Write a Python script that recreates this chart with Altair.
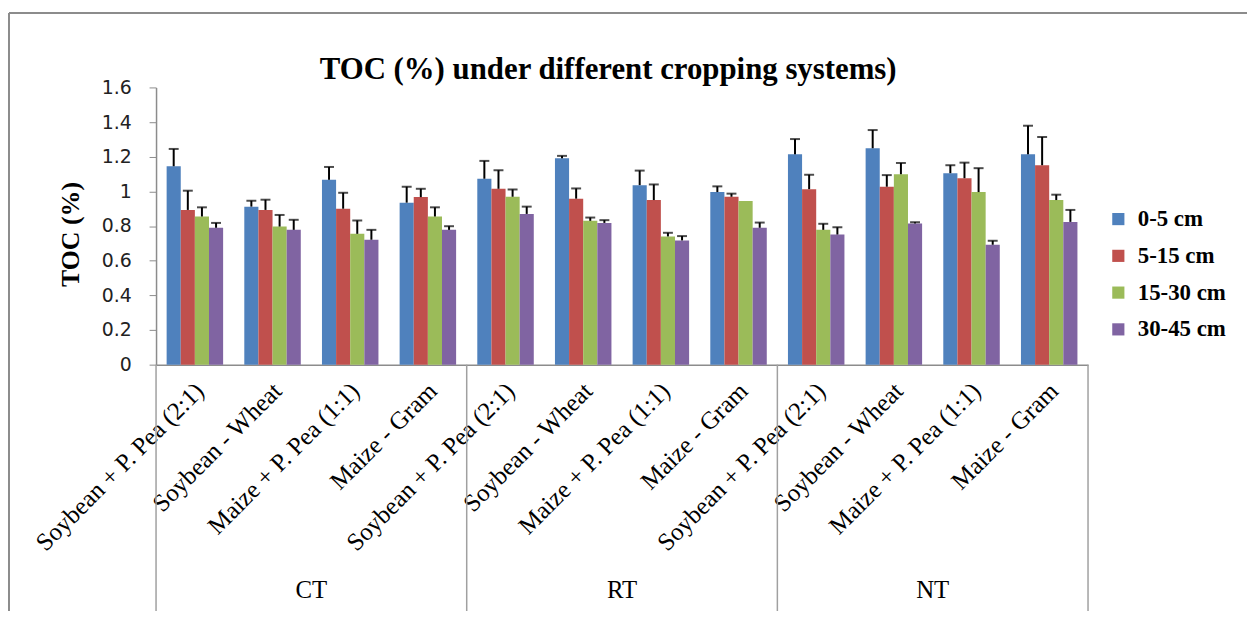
import altair as alt
import pandas as pd

tillage = ["CT", "RT", "NT"]
systems = ["Soybean + P. Pea (2:1)", "Soybean - Wheat", "Maize + P. Pea (1:1)", "Maize - Gram"]
depths = ["0-5 cm", "5-15 cm", "15-30 cm", "30-45 cm"]
colors = ["#4F81BD", "#C0504D", "#9BBB59", "#8064A2"]
title_text = "TOC (%) under different cropping systems)"
y_ticks = [0, 0.2, 0.4, 0.6, 0.8, 1.0, 1.2, 1.4, 1.6]

# values in system order within CT, RT, NT
toc_0_5 = [1.145, 0.912, 1.067, 0.935, 1.073, 1.191, 1.036, 0.996, 1.214, 1.249, 1.105, 1.214]
err_0_5 = [0.100, 0.034, 0.074, 0.092, 0.103, 0.014, 0.084, 0.033, 0.088, 0.105, 0.046, 0.165]
toc_5_15 = [0.893, 0.893, 0.900, 0.967, 1.015, 0.958, 0.950, 0.969, 1.013, 1.027, 1.076, 1.151]
err_5_15 = [0.111, 0.059, 0.092, 0.048, 0.107, 0.059, 0.090, 0.018, 0.083, 0.067, 0.090, 0.163]
toc_15_30 = [0.855, 0.797, 0.755, 0.855, 0.969, 0.830, 0.740, 0.945, 0.778, 1.099, 0.996, 0.950]
err_15_30 = [0.053, 0.067, 0.077, 0.053, 0.042, 0.019, 0.021, 0.000, 0.035, 0.065, 0.138, 0.031]
toc_30_45 = [0.790, 0.778, 0.721, 0.778, 0.870, 0.818, 0.717, 0.790, 0.751, 0.815, 0.692, 0.824]
err_30_45 = [0.028, 0.058, 0.057, 0.021, 0.042, 0.016, 0.025, 0.030, 0.042, 0.007, 0.023, 0.069]

series = [(toc_0_5, err_0_5), (toc_5_15, err_5_15), (toc_15_30, err_15_30), (toc_30_45, err_30_45)]
cats = [f"{t}|{s}" for t in tillage for s in systems]

rows = []
for d, (vals, errs) in zip(depths, series):
    for i, c in enumerate(cats):
        rows.append({"cat": c, "depth": d, "toc": vals[i], "top": vals[i] + errs[i], "err": errs[i]})
df = pd.DataFrame(rows)

W, H = 938, 279
SERIF = "Liberation Serif"

x = alt.X("cat:N", sort=cats,
          scale=alt.Scale(domain=cats, paddingInner=0, paddingOuter=0),
          axis=alt.Axis(title=None, labelExpr="split(datum.value, '|')[1]", labelAngle=-45,
                        labelAlign="right", labelBaseline="middle", labelFont=SERIF,
                        labelFontSize=25, labelColor="#000", labelPadding=22, labelOffset=5,
                        labelLimit=400, labelOverlap=False,
                        ticks=False, domainColor="#8c8c8c", domainWidth=1.5, grid=False))
xo = alt.XOffset("depth:N", sort=depths, scale=alt.Scale(domain=depths, paddingInner=0, paddingOuter=0.75))

yscale = alt.Scale(domain=[0, 1.6], nice=False, zero=True)
yaxis = alt.Axis(title="TOC (%)", values=y_ticks, tickCount=9,
                 format=".1~f", labelFont="DejaVu Sans", labelFontSize=19, labelColor="#222",
                 labelPadding=18, labelOverlap=False, labelFlush=False, tickSize=7, tickColor="#8c8c8c",
                 domainColor="#8c8c8c", domainWidth=1.5, grid=False, titleFont=SERIF,
                 titleFontSize=26, titleFontWeight="bold", titleColor="#000", titlePadding=18,
                 titleY=H / 2 + 8)

color = alt.Color("depth:N", sort=depths, scale=alt.Scale(domain=depths, range=colors),
                  legend=alt.Legend(title=None, orient="none", legendX=957, legendY=121,
                                    symbolType="square", symbolSize=150, symbolStrokeWidth=0,
                                    labelFont=SERIF, labelFontSize=23, labelFontWeight="bold",
                                    labelColor="#000", rowPadding=13, labelOffset=8))

base = alt.Chart(df)
bars = base.mark_bar().encode(x=x, xOffset=xo, y=alt.Y("toc:Q", scale=yscale, axis=yaxis), color=color)
errdf = base.transform_filter("datum.err > 0")
err_rule = errdf.mark_rule(color="#000", strokeWidth=2).encode(
    x=x, xOffset=xo, y=alt.Y("toc:Q", scale=yscale, axis=yaxis), y2="top:Q")
err_cap = errdf.mark_tick(color="#000", thickness=2, size=10, orient="horizontal").encode(
    x=x, xOffset=xo, y=alt.Y("top:Q", scale=yscale, axis=yaxis))

# group separators and labels
sep_df = pd.DataFrame({"cat": [cats[0], cats[4], cats[8]]})
sep_start = alt.Chart(sep_df).mark_rule(color="#a0a0a0", strokeWidth=1.5).encode(
    x=alt.X("cat:N", sort=cats, bandPosition=0), y=alt.value(H), y2=alt.value(H + 248))
sep_end = alt.Chart(pd.DataFrame({"cat": [cats[-1]]})).mark_rule(color="#a0a0a0", strokeWidth=1.5).encode(
    x=alt.X("cat:N", sort=cats, bandPosition=1), y=alt.value(H), y2=alt.value(H + 248))
grp_df = pd.DataFrame({"cat": [cats[2], cats[6], cats[10]], "label": tillage})
grp_text = alt.Chart(grp_df).mark_text(font=SERIF, fontSize=25, color="#000", baseline="middle").encode(
    x=alt.X("cat:N", sort=cats, bandPosition=0), y=alt.value(H + 227), text="label:N")

# chart title as text
title_mark = alt.Chart(pd.DataFrame({"t": [title_text]})).mark_text(
    font=SERIF, fontSize=31, fontWeight="bold", color="#000", baseline="middle", align="center").encode(
    x=alt.value(455), y=alt.value(-17), text="t:N")

# outer frame
frame_left = alt.Chart(pd.DataFrame({"a": [0]})).mark_rule(color="#8c8c8c", strokeWidth=2).encode(
    x=alt.value(-148), y=alt.value(-75), y2=alt.value(H + 260))
frame_top = alt.Chart(pd.DataFrame({"a": [0]})).mark_rule(color="#8c8c8c", strokeWidth=2).encode(
    x=alt.value(-148), x2=alt.value(W + 170), y=alt.value(-75))

chart = alt.layer(bars, err_rule, err_cap, sep_start, sep_end, grp_text, title_mark,
                  frame_left, frame_top).properties(
    width=W, height=H,
    background="white",
    autosize=alt.AutoSizeParams(type="none"),
    padding={"left": 149, "top": 78, "right": 160, "bottom": 246},
).configure_view(stroke=None)

chart.save("out.html", embed_options={"renderer": "svg", "actions": False})
